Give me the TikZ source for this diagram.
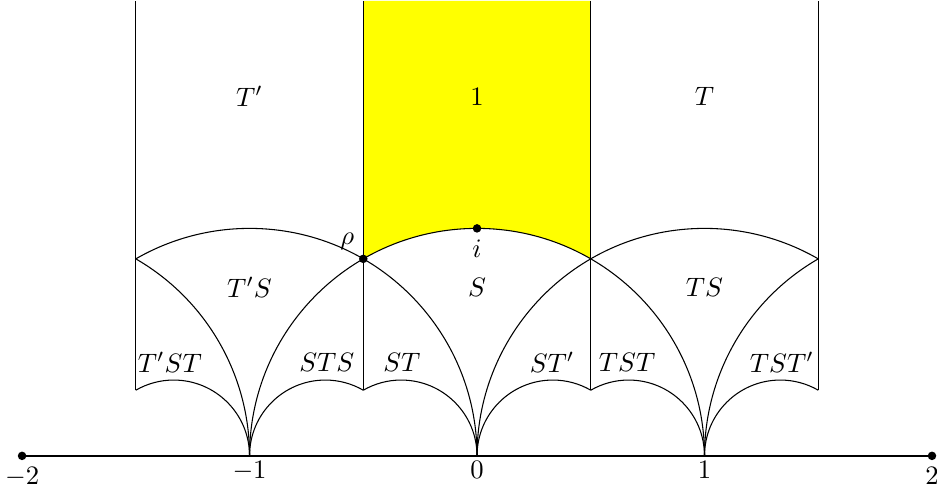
\documentclass[tikz,border=0pt]{standalone}
\usepackage{amsmath, amssymb}
\usepackage{tikz}
\definecolor{fund}{HTML}{FFFF00}

\begin{document}
\begin{tikzpicture}[x=3cm, y=3cm]
    \tikzstyle{pt} += [fill=black, circle, inner sep=0pt, minimum size=3.2pt];
    \tikzstyle{tk} += [inner sep=2pt, below];
    \useasboundingbox (-2.097,-0.141) rectangle (2.022,2.004);

    % fundamental domain
    \fill[fund] (-0.5,2) -- (-0.5,0.866) arc (120:60:1) -- (0.5,2) -- cycle;

    % real axis
    \node (xm2) at (-2, 0) [pt, label={[label distance=-1pt]below:$-2$}]{};
    \node (xp2) at ( 2, 0) [pt, label={[label distance=-1pt]below:$2$}]{};
    \draw[semithick] (xm2.center) -- (xp2.center);
    \node (xm1) at (-1, 0) [tk]{$-1$};
    \node (x0)  at ( 0, 0) [tk]{$0$};
    \node (xp1) at ( 1, 0) [tk]{$1$};

    % vertical sides
    \draw (-1.5,0.2887) -- (-1.5,2);
    \draw (-0.5,0.2887) -- (-0.5,2);
    \draw ( 0.5,0.2887) -- ( 0.5,2);
    \draw ( 1.5,0.2887) -- ( 1.5,2);

    % big arcs
    \draw (-1,0) arc (180:0:1);
    \draw ( 0,0) arc (0:120:1);
    \draw ( 0,0) arc (180:60:1);
    \draw (-1,0) arc (0:60:1);
    \draw ( 1,0) arc (180:120:1);

    % small arcs
    \draw (-1,0) arc (0:120:1/3);
    \draw (-1,0) arc (180:60:1/3);
    \draw ( 0,0) arc (0:120:1/3);
    \draw ( 0,0) arc (180:60:1/3);
    \draw ( 1,0) arc (0:120:1/3);
    \draw ( 1,0) arc (180:60:1/3);

    % special points
    \node (rho) at (-0.5, 0.866) [pt, label={[label distance=-2pt]above left:$\rho$}]{};
    \node (i)   at ( 0, 1)      [pt, label={[label distance=-1pt]below:$i$}]{};

    % regions
    \node (Tp)   at (-1, 1.58) {$T'$};
    \node (id)   at ( 0, 1.58) {$1$};
    \node (T)    at ( 1, 1.58) {$T$};
    \node (TpS)  at (-1, 0.74) {$T'S$};
    \node (S)    at ( 0, 0.74) {$S$};
    \node (TS)   at ( 1, 0.74) {$TS$};
    \node (TpST) at (-1.35, 0.41) {$T'ST$};
    \node (STS)  at (-0.66, 0.41) {$STS$};
    \node (ST)   at (-0.33, 0.41) {$ST$};
    \node (STp)  at ( 0.33, 0.41) {$ST'$};
    \node (TST)  at ( 0.66, 0.41) {$TST$};
    \node (TSTp) at ( 1.34, 0.41) {$TST'$};
\end{tikzpicture}
\end{document}
